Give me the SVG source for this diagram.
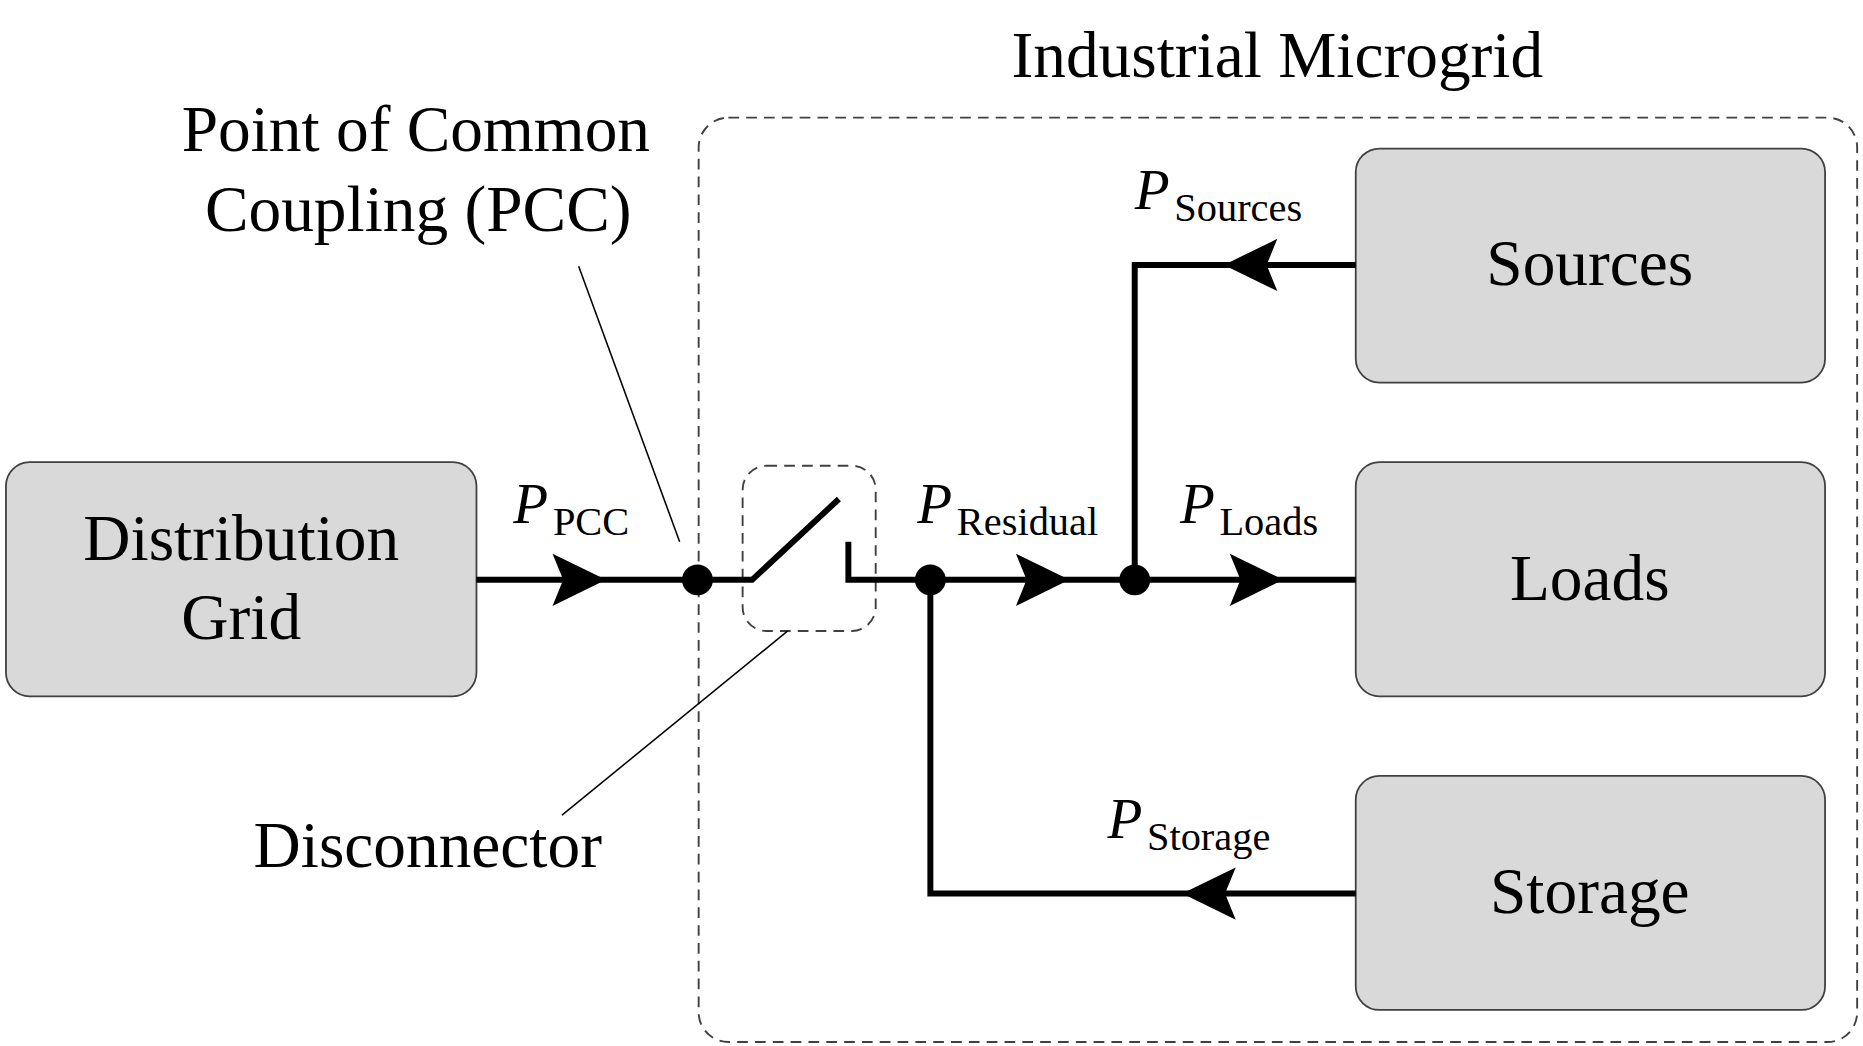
<svg xmlns="http://www.w3.org/2000/svg" width="1863" height="1046" viewBox="0 0 1863 1046">
<style>
.box{fill:#d9d9d9;stroke:#404040;stroke-width:1.5}
.t{font-family:"Liberation Serif",serif;font-size:55px;fill:#000;text-anchor:middle}
.p{font-family:"Liberation Serif",serif;font-size:48px;fill:#000}
.s{font-size:34px;font-style:normal}
.w{fill:none;stroke:#000;stroke-width:5}
.thin{fill:none;stroke:#000;stroke-width:1.3}
.dash{fill:none;stroke:#404040;stroke-width:1.6;stroke-dasharray:9 6}
</style>
<defs>
<path id="ar" d="M0,0 L-45,-22 L-36,0 L-45,22 Z" fill="#000"/>
</defs>
<rect width="1863" height="1046" fill="#fff"/>
<g transform="scale(1.1882)">
<g id="microgrid">
<rect class="dash" x="588" y="99" width="975" height="778" rx="25"/>
<text class="t" x="1075" y="65">Industrial Microgrid</text>
</g>
<g id="dist"><rect class="box" x="5" y="389" width="396" height="197" rx="20"/>
<text class="t" x="203" y="471">Distribution</text><text class="t" x="203" y="538">Grid</text></g>
<g id="sources"><rect class="box" x="1141" y="125" width="395" height="197" rx="20"/>
<text class="t" x="1338" y="240">Sources</text></g>
<g id="loads"><rect class="box" x="1141" y="389" width="395" height="197" rx="20"/>
<text class="t" x="1338" y="505">Loads</text></g>
<g id="storage"><rect class="box" x="1141" y="653" width="395" height="197" rx="20"/>
<text class="t" x="1338" y="768">Storage</text></g>
<g id="pcc-label"><text class="t" x="350" y="127">Point of Common</text><text class="t" x="352" y="194">Coupling (PCC)</text></g>
<g id="disc-label"><text class="t" x="360" y="730">Disconnector</text>
<rect class="dash" x="625" y="392" width="112" height="139" rx="20"/></g>
<g id="connectors">
<path class="thin" d="M487,224 L572,456"/>
<path class="thin" d="M663,531 L473,686"/>
<path class="w" d="M401,488 H633 L706,420"/>
<path class="w" d="M714,456 V488 H1141"/>
<path class="w" d="M783,488 V752 H1141"/>
<path class="w" d="M955,488 V223 H1141"/>
<circle cx="587" cy="488" r="13"/>
<circle cx="783" cy="488" r="13"/>
<circle cx="955" cy="488" r="13"/>
<use href="#ar" transform="translate(510,488)"/>
<use href="#ar" transform="translate(900,488)"/>
<use href="#ar" transform="translate(1080,488)"/>
<use href="#ar" transform="translate(1030,223) rotate(180)"/>
<use href="#ar" transform="translate(995,752) rotate(180)"/>
</g>
<g id="labels">
<text class="p" x="432" y="440"><tspan font-style="italic">P</tspan><tspan class="s" dx="4" dy="10">PCC</tspan></text>
<text class="p" x="772" y="440"><tspan font-style="italic">P</tspan><tspan class="s" dx="4" dy="10">Residual</tspan></text>
<text class="p" x="993" y="440"><tspan font-style="italic">P</tspan><tspan class="s" dx="4" dy="10">Loads</tspan></text>
<text class="p" x="955" y="176"><tspan font-style="italic">P</tspan><tspan class="s" dx="4" dy="10">Sources</tspan></text>
<text class="p" x="932" y="705"><tspan font-style="italic">P</tspan><tspan class="s" dx="4" dy="10">Storage</tspan></text>
</g>
</g>
</svg>
